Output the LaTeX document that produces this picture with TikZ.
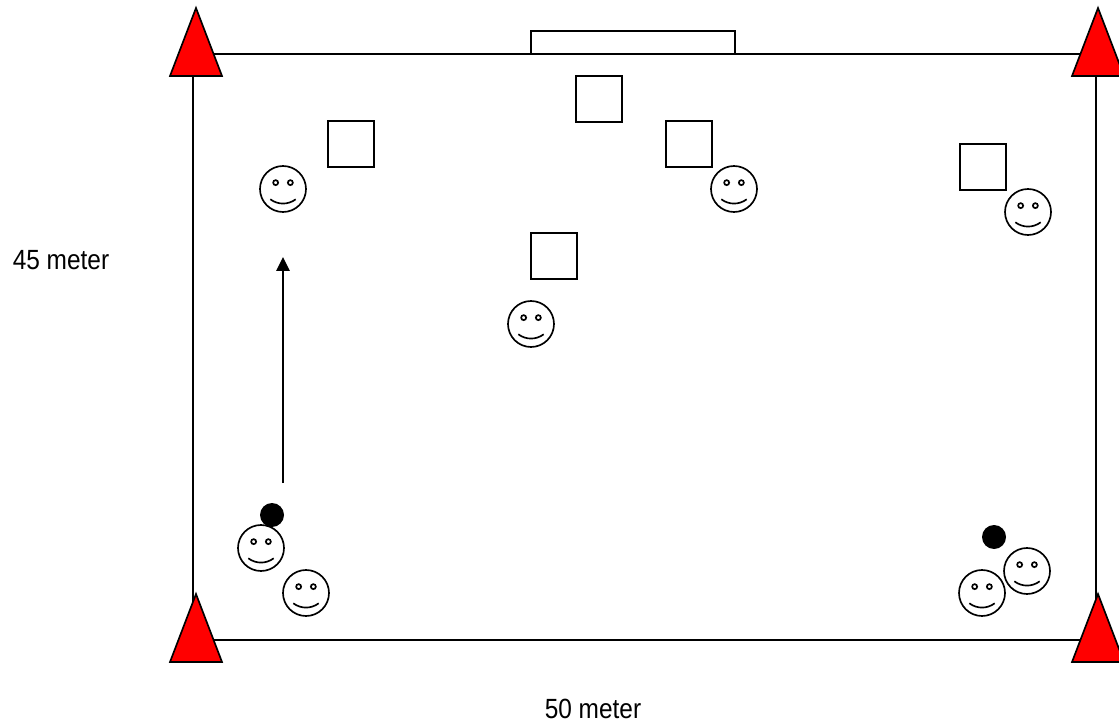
\documentclass[tikz,border=0pt]{standalone}
\usepackage{fontspec}
\setmainfont{Liberation Sans}
\usetikzlibrary{arrows.meta}
\definecolor{conered}{RGB}{255,0,0}
\tikzstyle{line} = [line width=0.95pt,color=black]
\tikzstyle{arrow} = [line width=0.95pt,-{Triangle[length=0.28cm,width=0.27cm]},color=black]
\tikzstyle{cone} = [line width=0.95pt,fill=conered,draw=black,line join=miter]
\tikzstyle{cover} = [draw=black,line width=1.15pt,minimum size=0.92cm,inner sep=0pt]
\tikzstyle{ball} = [circle,fill=black,minimum size=0.48cm,inner sep=0pt]
\tikzstyle{label} = [font=\fontsize{15.8}{18}\selectfont,inner sep=0pt,xscale=0.88,transform shape]
\tikzset{smiley/.pic={
  \draw[line] (0,0) circle (0.46);
  \draw[line] (-0.147,0.127) circle (0.05);
  \draw[line] (0.147,0.127) circle (0.05);
  \draw[line] (-0.254,-0.206) .. controls (-0.1,-0.32) and (0.1,-0.32) .. (0.254,-0.206);
}}

\begin{document}
\begin{tikzpicture}
\useasboundingbox (0,0) rectangle (22.38,14.46);
\clip (0,0) rectangle (22.38,14.46);

% Field and goal
\draw[line] (3.86,1.66) rectangle (21.92,13.38);
\draw[line] (10.62,13.38) rectangle (14.7,13.84);

% Cones on the corners
\foreach \x/\y in {3.92/14.3, 21.96/14.3, 3.92/2.58, 21.96/2.58}
  \draw[cone] (\x,\y) -- ++(-0.52,-1.36) -- ++(1.04,0) -- cycle;

% Squares
\node[cover] (sqa) at (7.02,11.58) {};
\node[cover] (sqb) at (11.98,12.48) {};
\node[cover] (sqc) at (13.78,11.58) {};
\node[cover] (sqd) at (19.66,11.12) {};
\node[cover] (sqe) at (11.08,9.34) {};

% Players
\path (5.66,10.68) pic {smiley};
\path (14.68,10.68) pic {smiley};
\path (20.56,10.22) pic {smiley};
\path (10.62,7.98) pic {smiley};
\path (5.22,3.5) pic {smiley};
\path (6.12,2.6) pic {smiley};
\path (20.54,3.04) pic {smiley};
\path (19.64,2.6) pic {smiley};

% Balls
\node[ball] (balla) at (5.44,4.16) {};
\node[ball] (ballb) at (19.88,3.72) {};

% Run
\coordinate (runa) at (5.66,4.8);
\coordinate (runb) at (5.66,9.32);
\draw[arrow] (runa) -- (runb);

% Sizes
\node[label] (height) at (1.22,9.26) {45 meter};
\node[label] (width) at (11.86,0.28) {50 meter};
\end{tikzpicture}
\end{document}
